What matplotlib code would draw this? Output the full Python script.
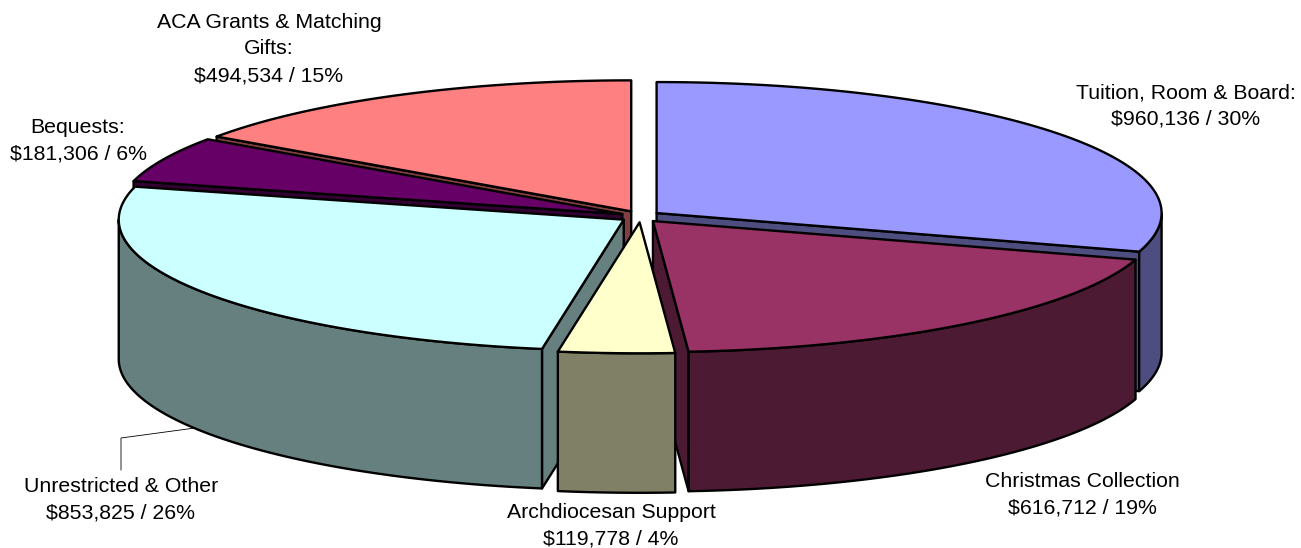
import numpy as np
import matplotlib
matplotlib.use('Agg')
import matplotlib.pyplot as plt
from matplotlib.patches import Polygon

labels = ["Tuition, Room & Board:", "Christmas Collection", "Archdiocesan Support",
          "Unrestricted & Other", "Bequests:", "ACA Grants & Matching\nGifts:"]
values = [960136, 616712, 119778, 853825, 181306, 494534]
top_colors = ["#9999FF", "#993366", "#FFFFCC", "#CCFFFF", "#660066", "#FF8080"]
side_colors = ["#4D4D80", "#4D1A33", "#808066", "#668080", "#330033", "#804040"]

# pixel layout of the 3d pie
cx, cy = 640.5, 216.5
rx, ry = 505, 131
depth = 139.5
explode_x, explode_y = 20, 5.8
draw_order = [5, 4, 0, 3, 1, 2]
label_pos = [(1186, 106), (1082, 495), (611, 526), (121, 500), (78, 141), (269, 49)]

total = sum(values)
edges = np.cumsum([0] + values) / total * 2 * np.pi


def arc(x0, y0, t1, t2):
    t = np.linspace(t1, t2, 100)
    return np.column_stack([x0 + rx * np.sin(t), y0 - ry * np.cos(t)])


def face(ax, pts, color):
    ax.add_patch(Polygon(pts, closed=True, facecolor=color, edgecolor='k',
                         linewidth=1.7, joinstyle='round'))


def cut_face(ax, x0, y0, t, color):
    p = arc(x0, y0, t, t)[0]
    face(ax, [(x0, y0), p, (p[0], p[1] + depth), (x0, y0 + depth)], color)


def draw_slice(ax, i):
    t1, t2 = edges[i], edges[i + 1]
    mid = (t1 + t2) / 2
    x0 = cx + explode_x * np.sin(mid)
    y0 = cy - explode_y * np.cos(mid)
    # only the cut faces turned to the viewer
    if np.sin(t1) < -1e-6:
        cut_face(ax, x0, y0, t1, side_colors[i])
    if np.sin(t2) > 1e-6:
        cut_face(ax, x0, y0, t2, side_colors[i])
    # outer wall, front half of the rim only
    a, b = max(t1, np.pi / 2), min(t2, 3 * np.pi / 2)
    if a < b:
        rim = arc(x0, y0, a, b)
        face(ax, np.vstack([rim, rim[::-1] + [0, depth]]), side_colors[i])
    face(ax, np.vstack([[(x0, y0)], arc(x0, y0, t1, t2)]), top_colors[i])


fig = plt.figure(figsize=(13.01, 5.48), dpi=100)
ax = fig.add_axes([0, 0, 1, 1])
ax.set_xlim(0, 1301)
ax.set_ylim(548, 0)
ax.axis('off')

for i in draw_order:
    draw_slice(ax, i)

# leader line of the Unrestricted label
ax.plot([195, 121, 121], [428, 438, 470], color='k', linewidth=0.6)

for name, v, (x, y) in zip(labels, values, label_pos):
    text = f"{name}\n${v:,} / {round(v / total * 100)}%"
    ax.text(x, y, text, ha='center', va='center', fontsize=15.3,
            family='Liberation Sans', linespacing=1.5, color='k')

plt.savefig("out.png", dpi=100)
